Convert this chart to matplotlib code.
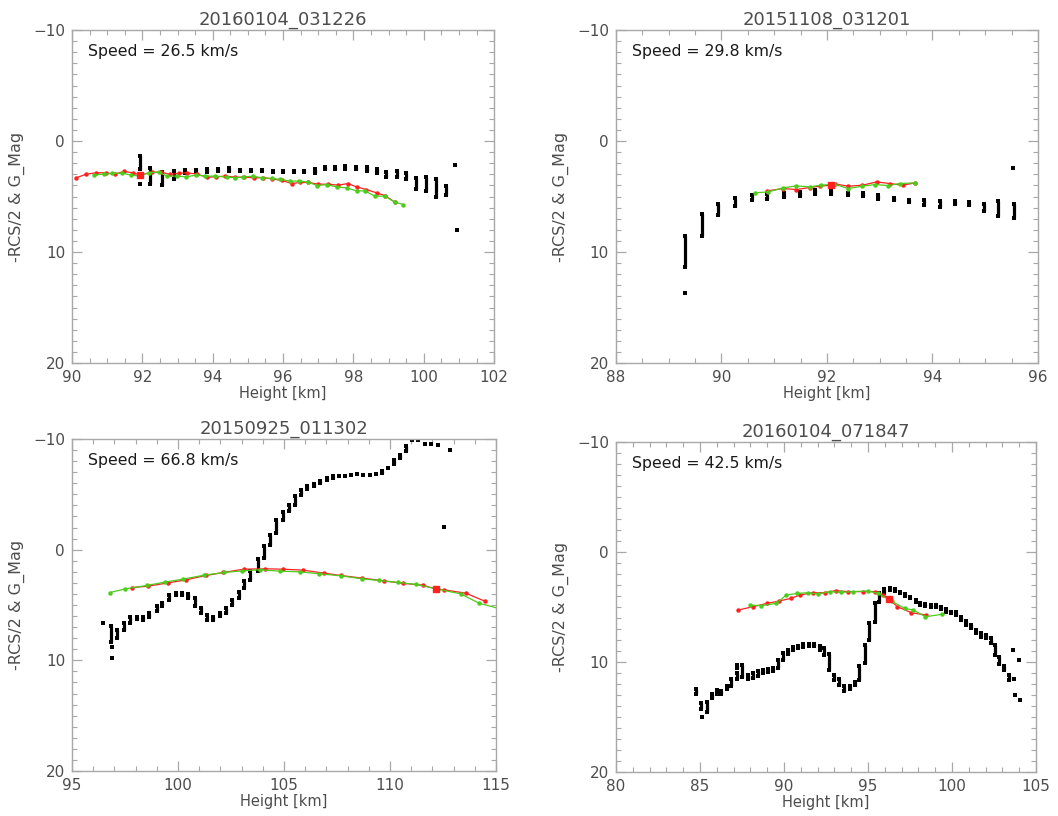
import matplotlib.pyplot as plt
from matplotlib.ticker import MultipleLocator

# ---- panel 1 : 20160104_031226 ----
p1_title = '20160104_031226'
p1_speed = 26.5
p1_red_x = [90.12, 90.41, 90.69, 90.96, 91.22, 91.47, 91.73, 91.94, 92.27, 92.53, 92.79, 93.03,
            93.26, 93.55, 93.83, 94.10, 94.36, 94.64, 94.90, 95.16, 95.42, 95.68, 95.96, 96.25,
            96.48, 96.72, 97.00, 97.29, 97.57, 97.84, 98.09, 98.37, 98.66, 98.90, 99.18]
p1_red_y = [3.31, 2.98, 2.86, 2.86, 2.98, 2.74, 2.86, 3.07, 2.80, 2.80, 3.01, 2.92,
            2.86, 2.98, 3.25, 3.22, 3.16, 3.25, 3.25, 3.31, 3.31, 3.40, 3.55, 3.83,
            3.73, 3.73, 3.89, 3.89, 3.98, 3.83, 4.13, 4.37, 4.67, 4.91, 5.51]
p1_green_x = [90.62, 90.90, 91.14, 91.42, 91.68, 91.94, 92.18, 92.46, 92.70, 92.98, 93.25, 93.53,
              93.79, 94.07, 94.40, 94.64, 94.87, 95.14, 95.39, 95.68, 95.91, 96.20, 96.46, 96.72,
              96.96, 97.24, 97.52, 97.81, 98.09, 98.33, 98.61, 98.90, 99.18, 99.42]
p1_green_y = [3.07, 2.98, 2.92, 2.89, 3.07, 3.16, 2.86, 2.80, 3.16, 3.16, 3.22, 3.07,
              3.16, 3.16, 3.25, 3.31, 3.25, 3.16, 3.31, 3.37, 3.46, 3.61, 3.61, 3.70,
              4.01, 3.92, 4.13, 4.22, 4.49, 4.49, 4.97, 4.97, 5.51, 5.72]
p1_peak = (91.94, 3.07)
p1_rcs_x = [91.94, 91.94, 92.22, 92.56, 92.89, 93.20, 93.52, 93.83, 94.16, 94.47, 94.78, 95.08,
            95.39, 95.71, 96.01, 96.31, 96.60, 96.91, 97.19, 97.48, 97.76, 98.07, 98.38, 98.66,
            98.94, 99.23, 99.49, 99.78, 100.06, 100.34, 100.63, 100.88, 100.95]
p1_rcs_lo = [1.36, 3.86, 2.41, 2.80, 2.71, 2.65, 2.62, 2.56, 2.56, 2.47, 2.62, 2.65,
             2.65, 2.68, 2.68, 2.68, 2.70, 2.56, 2.32, 2.32, 2.26, 2.32, 2.35, 2.50,
             2.80, 2.71, 2.86, 3.31, 3.25, 3.46, 4.07, 2.17, 7.98]
p1_rcs_hi = [2.56, 3.86, 3.83, 3.92, 3.46, 2.92, 2.80, 2.77, 2.71, 2.68, 2.74, 2.74,
             2.74, 2.77, 2.77, 2.80, 2.80, 2.86, 2.56, 2.56, 2.50, 2.56, 2.71, 2.92,
             3.22, 3.25, 3.46, 4.31, 4.52, 5.03, 4.82, 2.17, 7.98]

# ---- panel 2 : 20151108_031201 ----
p2_title = '20151108_031201'
p2_speed = 29.8
p2_red_x = [90.87, 91.17, 91.42, 91.67, 91.86, 92.08, 92.15, 92.40, 92.67, 92.94, 93.19, 93.44, 93.66]
p2_red_y = [4.49, 4.28, 4.37, 4.19, 4.07, 3.98, 3.86, 4.07, 3.98, 3.68, 3.83, 3.98, 3.77]
p2_green_x = [90.63, 90.89, 91.17, 91.42, 91.67, 91.88, 92.14, 92.40, 92.67, 92.91, 93.16, 93.38, 93.66]
p2_green_y = [4.67, 4.58, 4.22, 4.04, 4.13, 3.98, 3.89, 4.28, 4.07, 3.92, 4.01, 3.83, 3.77]
p2_peak = (92.08, 3.98)
p2_rcs_x = [89.31, 89.31, 89.64, 89.94, 90.25, 90.57, 90.87, 91.18, 91.48, 91.78, 92.08, 92.39,
            92.68, 92.97, 93.27, 93.55, 93.84, 94.14, 94.42, 94.70, 94.98, 95.24, 95.53, 95.55]
p2_rcs_lo = [8.58, 13.68, 6.60, 5.63, 5.09, 4.88, 4.79, 4.67, 4.58, 4.43, 4.37, 4.67,
             4.67, 4.88, 5.09, 5.27, 5.33, 5.42, 5.39, 5.48, 5.69, 5.42, 2.42, 5.63]
p2_rcs_hi = [11.35, 13.68, 8.58, 6.69, 5.87, 5.33, 5.18, 5.03, 4.97, 4.73, 4.73, 4.82,
             4.97, 5.18, 5.33, 5.45, 5.78, 5.93, 5.69, 5.78, 6.29, 6.72, 2.42, 6.90]

# ---- panel 3 : 20150925_011302 ----
p3_title = '20150925_011302'
p3_speed = 66.8
p3_red_x = [97.83, 98.57, 99.53, 100.39, 101.32, 102.14, 103.10, 104.11, 104.96, 105.89, 106.90,
            107.67, 108.68, 109.69, 110.62, 111.55, 112.17, 112.56, 113.57, 114.50]
p3_red_y = [3.42, 3.30, 3.00, 2.72, 2.33, 2.06, 1.76, 1.73, 1.76, 1.85, 2.12,
            2.33, 2.57, 2.81, 3.05, 3.20, 3.57, 3.63, 3.93, 4.68]
p3_green_x = [96.78, 97.52, 98.53, 99.38, 100.23, 101.24, 102.17, 103.02, 103.88, 104.81, 105.74,
              106.67, 107.67, 108.68, 109.46, 110.39, 111.24, 112.25, 113.33, 114.19, 115.30]
p3_green_y = [3.87, 3.54, 3.23, 2.93, 2.66, 2.30, 2.06, 1.91, 1.82, 1.94, 2.00,
              2.18, 2.36, 2.63, 2.78, 2.96, 3.14, 3.57, 3.99, 4.83, 5.40]
p3_peak = (112.17, 3.57)
p3_rcs_x = [96.47, 96.82, 96.87, 96.87, 97.13, 97.44, 97.75, 98.06, 98.34, 98.65, 98.99, 99.26,
            99.57, 99.88, 100.19, 100.47, 100.78, 101.09, 101.35, 101.63, 101.97, 102.25, 102.56,
            102.87, 103.13, 103.41, 103.75, 104.06, 104.34, 104.64, 104.93, 105.21, 105.50,
            105.81, 106.09, 106.40, 106.71, 107.02, 107.29, 107.60, 107.88, 108.17, 108.45,
            108.73, 109.04, 109.33, 109.61, 109.88, 110.19, 110.47, 110.74, 111.04, 111.32,
            111.63, 111.94, 112.25, 112.84, 112.56]
p3_rcs_lo = [6.64, 6.94, 8.81, 9.81, 7.24, 6.58, 6.04, 6.04, 6.10, 5.68, 5.13, 4.83,
             4.08, 3.93, 3.93, 4.02, 4.38, 5.28, 5.88, 6.04, 5.68, 5.28, 4.53,
             3.78, 2.87, 1.97, 0.85, -0.29, -1.35, -2.65, -3.37, -4.06, -4.82,
             -5.42, -5.72, -5.96, -6.17, -6.47, -6.62, -6.62, -6.68, -6.78, -6.83,
             -6.78, -6.78, -6.87, -7.08, -7.38, -8.13, -8.58, -9.34, -9.88, -9.88,
             -9.58, -9.58, -9.49, -8.97, -2.04]
p3_rcs_hi = [6.64, 8.30, 8.81, 9.81, 8.00, 7.24, 6.58, 6.28, 6.34, 6.04, 5.58, 5.13,
             4.53, 4.11, 4.08, 4.38, 5.07, 5.73, 6.34, 6.34, 5.95, 5.68, 4.98,
             4.38, 3.48, 2.72, 1.97, 0.76, -0.44, -1.50, -2.71, -3.46, -4.06,
             -4.97, -5.48, -5.78, -6.02, -6.32, -6.47, -6.62, -6.68, -6.78, -6.83,
             -6.78, -6.78, -6.87, -6.93, -7.38, -7.74, -8.28, -8.88, -9.88, -9.88,
             -9.58, -9.58, -9.49, -8.97, -2.04]

# ---- panel 4 : 20160104_071847 ----
p4_title = '20160104_071847'
p4_speed = 42.5
p4_red_x = [87.29, 88.15, 89.00, 89.68, 90.43, 90.93, 91.72, 92.42, 93.08, 93.81, 94.71, 95.40,
            95.90, 96.24, 96.75, 97.59, 98.48]
p4_red_y = [5.27, 4.97, 4.67, 4.46, 4.21, 3.91, 3.70, 3.70, 3.51, 3.60, 3.60, 3.60,
            3.91, 4.27, 4.97, 5.52, 5.73]
p4_green_x = [87.95, 88.64, 89.54, 90.14, 90.79, 91.43, 92.02, 92.72, 93.41, 94.11, 95.00, 95.60,
              96.40, 97.19, 97.69, 98.42, 99.38]
p4_green_y = [4.82, 4.88, 4.67, 3.91, 3.76, 3.70, 3.82, 3.60, 3.66, 3.60, 3.54, 3.76,
              4.46, 5.13, 5.27, 5.88, 5.67]
p4_peak = (96.24, 4.27)
p4_rcs_x = [84.77, 85.05, 85.10, 85.40, 85.69, 85.99, 86.28, 86.58, 86.87, 87.21, 87.21, 87.52,
            87.86, 88.15, 88.45, 88.74, 89.04, 89.33, 89.63, 89.92, 90.22, 90.51, 90.81, 91.14,
            91.46, 91.79, 92.12, 92.38, 92.67, 92.97, 93.26, 93.56, 93.90, 94.21, 94.45, 94.80,
            95.09, 95.39, 95.66, 95.98, 96.31, 96.61, 96.90, 97.20, 97.49, 97.83, 98.12, 98.42,
            98.73, 99.03, 99.32, 99.66, 99.95, 100.25, 100.54, 100.84, 101.13, 101.43, 101.72,
            102.02, 102.31, 102.55, 102.80, 103.10, 103.39, 103.65, 103.69, 103.98, 103.73, 104.04]
p4_rcs_lo = [12.41, 13.72, 15.00, 13.62, 12.87, 12.56, 12.62, 12.20, 11.50, 10.28, 11.04, 10.28,
             11.20, 10.98, 10.80, 10.68, 10.59, 10.50, 9.83, 9.16, 8.92, 8.61, 8.52, 8.40,
             8.37, 8.40, 8.55, 8.77, 9.28, 11.20, 11.50, 12.20, 12.20, 11.80, 10.38, 8.46,
             6.49, 4.67, 3.76, 3.39, 3.30, 3.39, 3.60, 3.82, 4.06, 4.36, 4.61, 4.76,
             4.82, 4.82, 5.03, 5.21, 5.43, 5.43, 5.88, 6.25, 6.64, 7.10, 7.40,
             7.55, 7.86, 8.46, 9.53, 10.38, 11.20, 8.92, 11.50, 9.83, 13.02, 13.41]
p4_rcs_hi = [12.87, 14.23, 15.00, 14.54, 13.23, 12.87, 12.93, 12.41, 12.20, 10.50, 11.50, 11.35,
             11.50, 11.41, 11.29, 11.04, 10.89, 10.80, 10.50, 9.83, 9.28, 8.92, 8.77, 8.61,
             8.55, 8.55, 8.92, 9.37, 10.74, 11.65, 12.11, 12.62, 12.41, 12.05, 11.65, 10.13,
             8.01, 6.34, 4.52, 3.76, 3.45, 3.51, 3.76, 4.00, 4.21, 4.52, 4.82, 4.91,
             4.97, 4.97, 5.21, 5.43, 5.58, 5.73, 6.19, 6.64, 6.95, 7.40, 7.70,
             7.86, 8.31, 9.37, 10.19, 10.74, 11.65, 8.92, 11.50, 9.83, 13.02, 13.41]

TEXT_GREY = '#4d4d4d'
AXIS_GREY = '#a8a8a8'
RED = '#ff2020'
GREEN = '#4ccc1c'


def draw_panel(ax, title, speed, xlim, xmajor, xminor,
               rcs_x, rcs_lo, rcs_hi, red_x, red_y, green_x, green_y, peak):
    # radar cross section samples: vertical stacks of small squares
    ax.vlines(rcs_x, rcs_lo, rcs_hi, colors='black', linewidth=2.3, zorder=2)
    ax.plot(rcs_x, rcs_lo, 's', color='black', ms=2.5, mew=0, zorder=2)
    ax.plot(rcs_x, rcs_hi, 's', color='black', ms=2.5, mew=0, zorder=2)
    ax.plot(red_x, red_y, '-o', color=RED, lw=0.9, ms=2.2, mec=RED, zorder=3)
    ax.plot(green_x, green_y, '-o', color=GREEN, lw=0.9, ms=2.2, mec=GREEN, zorder=3)
    ax.plot([peak[0]], [peak[1]], 's', color=RED, ms=4.5, zorder=4)

    ax.set_xlim(*xlim)
    ax.set_ylim(20, -10)
    ax.xaxis.set_major_locator(MultipleLocator(xmajor))
    ax.xaxis.set_minor_locator(MultipleLocator(xminor))
    ax.yaxis.set_major_locator(MultipleLocator(10))
    ax.yaxis.set_minor_locator(MultipleLocator(1))
    ax.tick_params(which='both', direction='in', top=True, right=True,
                   color=AXIS_GREY, labelcolor=TEXT_GREY, labelsize=11, pad=5)
    ax.tick_params(which='major', length=7, width=0.9)
    ax.tick_params(which='minor', length=3.5, width=0.8)
    for sp in ax.spines.values():
        sp.set_color(AXIS_GREY)
        sp.set_linewidth(1.0)

    ax.set_title(title, fontsize=13, color=TEXT_GREY, pad=4)
    ax.set_xlabel('Height [km]', fontsize=10.5, color=TEXT_GREY, labelpad=1)
    ax.set_ylabel('-RCS/2 & G_Mag', fontsize=11.5, color=TEXT_GREY, labelpad=6)
    ax.text(0.038, 0.935, f'Speed = {speed:.1f} km/s', transform=ax.transAxes,
            fontsize=11.3, color='#1a1a1a', ha='left', va='center')


fig = plt.figure(figsize=(10.58, 8.16), dpi=100)

ax1 = fig.add_axes([0.0681, 0.5551, 0.3989, 0.4081])
draw_panel(ax1, p1_title, p1_speed, (90, 102), 2, 0.5,
           p1_rcs_x, p1_rcs_lo, p1_rcs_hi, p1_red_x, p1_red_y, p1_green_x, p1_green_y, p1_peak)

ax2 = fig.add_axes([0.5822, 0.5551, 0.3989, 0.4081])
draw_panel(ax2, p2_title, p2_speed, (88, 96), 2, 0.5,
           p2_rcs_x, p2_rcs_lo, p2_rcs_hi, p2_red_x, p2_red_y, p2_green_x, p2_green_y, p2_peak)

ax3 = fig.add_axes([0.0681, 0.0551, 0.4008, 0.4069])
draw_panel(ax3, p3_title, p3_speed, (95, 115), 5, 1,
           p3_rcs_x, p3_rcs_lo, p3_rcs_hi, p3_red_x, p3_red_y, p3_green_x, p3_green_y, p3_peak)

ax4 = fig.add_axes([0.5822, 0.0539, 0.3970, 0.4044])
draw_panel(ax4, p4_title, p4_speed, (80, 105), 5, 1,
           p4_rcs_x, p4_rcs_lo, p4_rcs_hi, p4_red_x, p4_red_y, p4_green_x, p4_green_y, p4_peak)

fig.savefig('out.png', dpi=100)
